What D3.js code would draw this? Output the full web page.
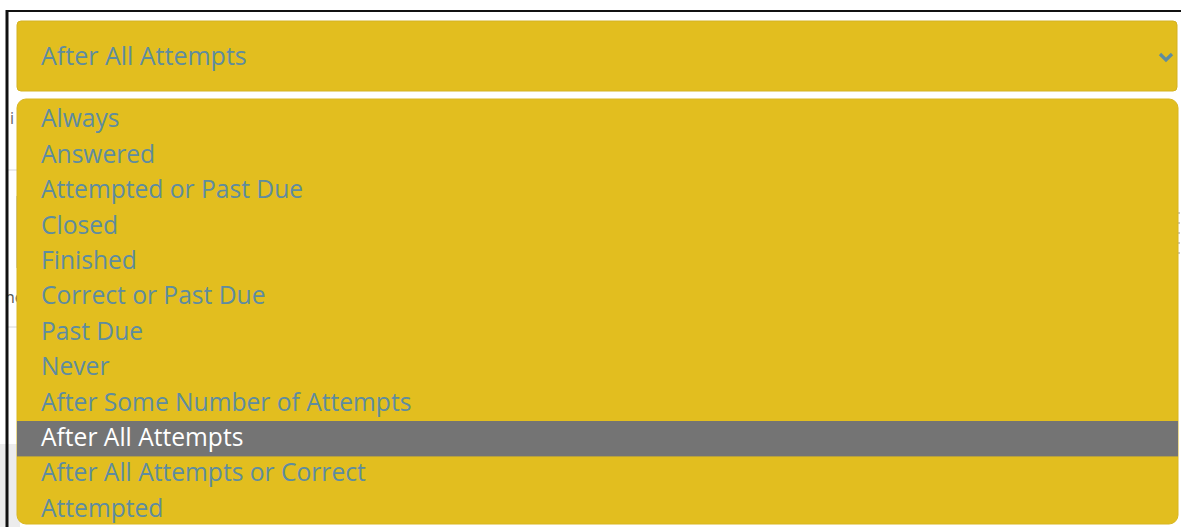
<!DOCTYPE html>
<html>
<head>
<meta charset="utf-8">
<script src="https://cdn.jsdelivr.net/npm/d3@7"></script>
<style>
  html, body { margin: 0; padding: 0; background: #fff; }
  svg { display: block; }
</style>
</head>
<body>
<svg id="canvas"></svg>
<script>
const width = 1181;
const height = 527;

// dropdown content
const options = [
  "Always",
  "Answered",
  "Attempted or Past Due",
  "Closed",
  "Finished",
  "Correct or Past Due",
  "Past Due",
  "Never",
  "After Some Number of Attempts",
  "After All Attempts",
  "After All Attempts or Correct",
  "Attempted"
];
const selected = "After All Attempts";

const yellow = "#e2be1f";
const textBlue = "#5e8ca0";
const font = "'Open Sans', sans-serif";

const svg = d3.select("svg#canvas")
    .attr("width", width)
    .attr("height", height)
    .attr("viewBox", [0, 0, width, height]);

// page behind the dropdown (partly hidden)
const bg = svg.append("g");
bg.append("rect")
    .attr("x", 0).attr("y", 444)
    .attr("width", 20).attr("height", 83)
    .attr("fill", "#ececec");
bg.append("line")
    .attr("x1", 8).attr("x2", 20).attr("y1", 170).attr("y2", 170)
    .attr("stroke", "#d6d6d6");
bg.append("line")
    .attr("x1", 17).attr("x2", 17).attr("y1", 196).attr("y2", 268)
    .attr("stroke", "#bdbdbd").attr("stroke-width", 1.5);
bg.append("line")
    .attr("x1", 8).attr("x2", 20).attr("y1", 327).attr("y2", 327)
    .attr("stroke", "#d6d6d6");
bg.append("text")
    .attr("x", 10).attr("y", 124)
    .attr("font-family", font).attr("font-size", 16)
    .attr("fill", "#666")
    .text("i");
bg.append("text")
    .attr("x", 5).attr("y", 303)
    .attr("font-family", font).attr("font-size", 16)
    .attr("fill", "#555")
    .text("ne");
bg.append("line")
    .attr("x1", 1179).attr("x2", 1179).attr("y1", 212).attr("y2", 258)
    .attr("stroke", "#999").attr("stroke-dasharray", "2,8");

// frame
svg.append("line")
    .attr("x1", 6).attr("x2", width).attr("y1", 11).attr("y2", 11)
    .attr("stroke", "#111").attr("stroke-width", 2);
svg.append("line")
    .attr("x1", 7).attr("x2", 7).attr("y1", 10).attr("y2", height)
    .attr("stroke", "#111").attr("stroke-width", 3);

// select box
const select = svg.append("g");
select.append("rect")
    .attr("x", 17).attr("y", 21)
    .attr("width", 1160).attr("height", 70)
    .attr("rx", 4)
    .attr("fill", yellow)
    .attr("stroke", "#d4b222")
    .attr("stroke-width", 1);
select.append("text")
    .attr("x", 41).attr("y", 65)
    .attr("font-family", font).attr("font-size", 25)
    .attr("fill", textBlue)
    .text(selected);
select.append("path")
    .attr("d", d3.line()([[1160, 54], [1166, 60], [1172, 54]]))
    .attr("fill", "none")
    .attr("stroke", textBlue)
    .attr("stroke-width", 3.2);

// open list
const listTop = 99;
const y = d3.scaleBand()
    .domain(options)
    .range([102.4, 102.4 + options.length * 35.4]);

const list = svg.append("g");
list.append("rect")
    .attr("x", 17).attr("y", listTop)
    .attr("width", 1161).attr("height", 425)
    .attr("rx", 9)
    .attr("fill", yellow)
    .attr("stroke", "#d9b620")
    .attr("stroke-width", 1);

const row = list.selectAll("g.opt")
  .data(options)
  .join("g")
    .attr("class", "opt")
    .attr("transform", d => `translate(0,${y(d)})`);

row.filter(d => d === selected)
  .append("rect")
    .attr("x", 17)
    .attr("y", 0)
    .attr("width", 1161)
    .attr("height", y.bandwidth())
    .attr("fill", "#747474");

row.append("text")
    .attr("x", 41)
    .attr("y", 25)
    .attr("font-family", font)
    .attr("font-size", 24.6)
    .attr("fill", d => d === selected ? "#fff" : textBlue)
    .text(d => d);
</script>
</body>
</html>
